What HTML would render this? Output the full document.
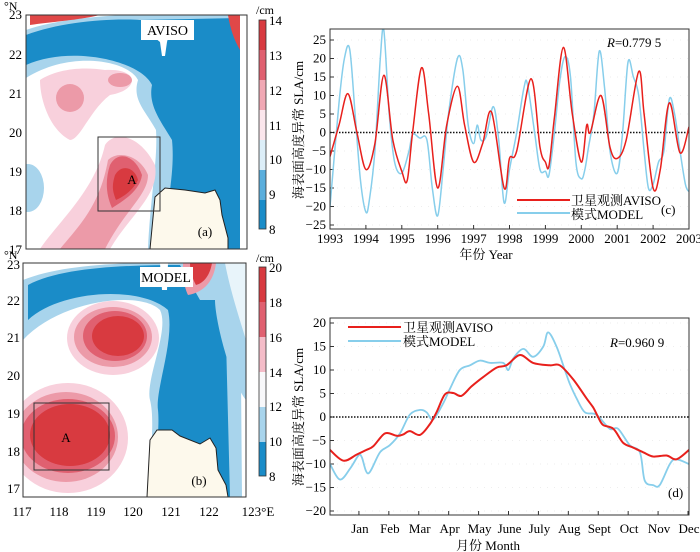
<!DOCTYPE html>
<html><head><meta charset="utf-8"><style>
body{margin:0;background:#fff;}
svg{display:block;font-family:"Liberation Serif","Noto Serif CJK SC",serif;}
</style></head><body>
<svg id="fig" width="700" height="552" viewBox="0 0 700 552" xmlns="http://www.w3.org/2000/svg">
<defs>
<clipPath id="ca"><rect x="26" y="15" width="221" height="234"/></clipPath>
<clipPath id="cb"><rect x="23" y="263" width="223" height="234"/></clipPath>
<clipPath id="cc"><rect x="330" y="29" width="359" height="200"/></clipPath>
<clipPath id="cd"><rect x="330" y="318" width="359" height="197"/></clipPath>
</defs>

<!-- MAP A -->
<g>
<g clip-path="url(#ca)">
<rect x="26" y="15" width="221" height="234" fill="#ffffff"/>
<path d="M26,30 C60,18 120,14 150,15 L240,15 L240,249 L148,249 C150,200 158,160 156,130 C145,110 132,100 138,80 C128,60 70,50 26,78 Z" fill="#a8d4ec"/>
<path d="M26,35 C60,22 110,18 140,20 L240,18 L240,249 L162,249 C168,200 175,170 172,140 C160,120 148,105 152,85 C140,60 70,45 26,65 Z" fill="#1a8cc8"/>
<path d="M228,15 L240,15 L240,50 C234,40 230,28 228,15 Z" fill="#e04848"/>
<rect x="240" y="15" width="7" height="234" fill="#ffffff"/>
<path d="M30,15 L100,15 C80,20 50,22 30,25 Z" fill="#e04848"/>
<ellipse cx="28" cy="188" rx="16" ry="24" fill="#a8d4ec"/>
<path d="M40,80 C55,70 80,66 105,70 C140,68 140,90 110,95 C90,110 80,140 70,140 C50,130 40,100 40,80 Z" fill="#f8d0dc"/>
<ellipse cx="70" cy="98" rx="14" ry="14" fill="#ec9aa8"/>
<ellipse cx="120" cy="80" rx="12" ry="7" fill="#ec9aa8"/>
<path d="M40,249 C60,220 95,190 105,145 C115,130 140,135 155,165 C160,195 130,215 110,249 Z" fill="#f8d0dc"/>
<path d="M60,249 C80,225 100,205 108,160 C118,150 140,155 148,175 C148,195 125,210 105,249 Z" fill="#ec9aa8"/>
<path d="M110,165 C118,150 135,155 142,175 C140,190 125,200 112,208 C106,195 105,180 110,165 Z" fill="#e06070"/>
<path d="M115,175 C122,163 135,168 138,180 C132,192 122,197 116,200 C112,190 112,185 115,175 Z" fill="#d83a40"/>
<path d="M150,249 L155,197 L165,188 L185,190 L205,193 L215,190 L220,200 L222,215 L228,238 L228,249 Z" fill="#fdf9ec" stroke="#222" stroke-width="1"/>
<path d="M145,30 L170,30 L167,42 L165,56 L162,56 L160,42 Z" fill="#fff"/>
</g>
<rect x="26" y="15" width="221" height="234" fill="none" stroke="#333" stroke-width="1"/>
<rect x="141" y="20" width="53" height="20" fill="#fff"/>
<text x="167.5" y="35" font-size="14" text-anchor="middle">AVISO</text>
<rect x="98" y="137" width="62" height="74" fill="none" stroke="#333" stroke-width="1"/>
<text x="132" y="184" font-size="13" text-anchor="middle">A</text>
<text x="205" y="236" font-size="13" text-anchor="middle">(a)</text>
<g font-size="13" text-anchor="end">
<text x="22" y="19">23</text><text x="22" y="59">22</text><text x="22" y="98">21</text><text x="22" y="137">20</text><text x="22" y="176">19</text><text x="22" y="215">18</text><text x="22" y="254">17</text>
</g>
<text x="4" y="10" font-size="12">°N</text>
</g>
<g>
<rect x="259" y="20" width="7" height="30" fill="#d83a40"/><rect x="259" y="50" width="7" height="30" fill="#e06070"/>
<rect x="259" y="80" width="7" height="30" fill="#f0a8b4"/><rect x="259" y="110" width="7" height="30" fill="#fbe6ec"/>
<rect x="259" y="140" width="7" height="30" fill="#dceef8"/><rect x="259" y="170" width="7" height="30" fill="#5aaedc"/>
<rect x="259" y="200" width="7" height="29" fill="#1a8cc8"/>
<rect x="259" y="20" width="7" height="209" fill="none" stroke="#333" stroke-width="0.8"/>
<text x="256" y="14" font-size="12">/cm</text>
<g font-size="13"><text x="269" y="25">14</text><text x="269" y="60">13</text><text x="269" y="95">12</text><text x="269" y="130">11</text><text x="269" y="164">10</text><text x="269" y="199">9</text><text x="269" y="234">8</text></g>
</g>

<!-- MAP B -->
<g>
<g clip-path="url(#cb)">
<rect x="23" y="263" width="223" height="234" fill="#ffffff"/>
<path d="M23,280 C60,265 120,262 180,263 L240,263 L242,497 L150,497 C150,450 155,420 150,400 C145,380 170,330 160,310 C140,290 60,300 23,340 Z" fill="#a8d4ec"/>
<path d="M28,285 C60,268 120,265 180,265 L200,300 L225,300 L230,497 L152,497 C155,460 160,430 158,410 C155,390 175,340 168,310 C140,285 60,290 28,320 Z" fill="#1a8cc8"/>
<path d="M200,263 L246,263 L246,400 C230,380 215,320 215,300 C210,285 205,270 200,263 Z" fill="#a8d4ec"/>
<path d="M225,263 L246,263 L246,340 C240,320 230,290 225,263 Z" fill="#e8f4fa"/>
<path d="M183,263 L216,263 C214,280 205,292 188,295 C183,285 183,272 183,263 Z" fill="#ec9aa8"/>
<path d="M190,263 L212,263 C210,275 204,283 196,285 C192,278 190,270 190,263 Z" fill="#d83a40"/>
<ellipse cx="113" cy="338" rx="46" ry="37" fill="#f8d0dc"/>
<ellipse cx="113" cy="337" rx="39" ry="30" fill="#ec9aa8"/>
<ellipse cx="115" cy="336" rx="32" ry="25" fill="#e06070"/>
<ellipse cx="118" cy="336" rx="26" ry="20" fill="#d83a40"/>
<ellipse cx="68" cy="438" rx="60" ry="55" fill="#f8d0dc"/>
<ellipse cx="66" cy="437" rx="52" ry="45" fill="#ec9aa8"/>
<ellipse cx="68" cy="436" rx="47" ry="37" fill="#e06070"/>
<ellipse cx="70" cy="435" rx="40" ry="31" fill="#d83a40"/>
<path d="M147,497 L150,440 L157,430 L172,430 L180,436 L200,444 L210,438 L216,448 L218,470 L226,485 L228,497 Z" fill="#fdf9ec" stroke="#222" stroke-width="1"/>
<path d="M160,263 L168,263 L167,290 L162,290 Z" fill="#fff"/>
</g>
<rect x="23" y="263" width="223" height="234" fill="none" stroke="#333" stroke-width="1"/>
<rect x="140" y="267" width="53" height="20" fill="#fff"/>
<text x="166" y="282" font-size="14" text-anchor="middle">MODEL</text>
<rect x="34" y="403" width="75" height="67" fill="none" stroke="#333" stroke-width="1"/>
<text x="66" y="442" font-size="13" text-anchor="middle">A</text>
<text x="199" y="485" font-size="13" text-anchor="middle">(b)</text>
<g font-size="13" text-anchor="end">
<text x="20" y="269">23</text><text x="20" y="305">22</text><text x="20" y="342">21</text><text x="20" y="380">20</text><text x="20" y="418">19</text><text x="20" y="456">18</text><text x="20" y="493">17</text>
</g>
<text x="4" y="259" font-size="12">°N</text>
<g font-size="13" text-anchor="middle">
<text x="22" y="516">117</text><text x="59" y="516">118</text><text x="96" y="516">119</text><text x="133" y="516">120</text><text x="171" y="516">121</text><text x="209" y="516">122</text><text x="258" y="516">123°E</text>
</g>
</g>
<g>
<rect x="259" y="267" width="7" height="35" fill="#d83a40"/><rect x="259" y="302" width="7" height="35" fill="#e06070"/>
<rect x="259" y="337" width="7" height="35" fill="#f4bcc8"/><rect x="259" y="372" width="7" height="35" fill="#f8f8fa"/>
<rect x="259" y="407" width="7" height="35" fill="#a8d4ec"/><rect x="259" y="442" width="7" height="34" fill="#1a8cc8"/>
<rect x="259" y="267" width="7" height="209" fill="none" stroke="#333" stroke-width="0.8"/>
<text x="256" y="262" font-size="12">/cm</text>
<g font-size="13"><text x="269" y="272">20</text><text x="269" y="307">18</text><text x="269" y="342">16</text><text x="269" y="377">14</text><text x="269" y="411">12</text><text x="269" y="446">10</text><text x="269" y="481">8</text></g>
</g>

<g id="chartc"></g>
<g id="chartd"></g>
</svg>
<script>
const cYears = ["1993","1994","1995","1996","1997","1998","1999","2000","2001","2002","2003"];
const cYTicks = [25,20,15,10,5,0,-5,-10,-15,-20,-25];
const cAvisoT = [1993.0,1993.25,1993.5,1993.75,1994.0,1994.25,1994.5,1994.75,1995.0,1995.15,1995.3,1995.55,1995.75,1996.0,1996.25,1996.55,1996.75,1997.0,1997.25,1997.5,1997.85,1998.0,1998.2,1998.6,1998.85,1999.0,1999.1,1999.25,1999.5,1999.75,2000.0,2000.15,2000.25,2000.55,2000.8,2001.0,2001.25,2001.6,2001.75,2002.0,2002.2,2002.45,2002.75,2003.0];
const cAvisoV = [-6.5,2,10.5,0,-10,-3,15.5,-2,-10.5,-13,0,17.5,5,-15,2,12.5,2,-8,-3,5.5,-15,-7,-5,14.5,-4,-8,-9,4,23,5,-8,2,0,10,-4,-7,-2,16.5,5,-15,-10,8,-5.5,1.5];
const cModelT = [1993.0,1993.25,1993.4,1993.55,1993.7,1993.85,1994.0,1994.1,1994.25,1994.4,1994.5,1994.65,1994.8,1995.0,1995.2,1995.3,1995.5,1995.7,1995.85,1996.0,1996.15,1996.3,1996.55,1996.7,1996.85,1997.0,1997.1,1997.2,1997.35,1997.55,1997.7,1997.85,1998.0,1998.2,1998.4,1998.5,1998.7,1998.85,1999.0,1999.1,1999.25,1999.4,1999.55,1999.7,1999.85,2000.0,2000.1,2000.2,2000.35,2000.5,2000.65,2000.8,2001.0,2001.15,2001.3,2001.45,2001.6,2001.75,2001.87,2002.0,2002.15,2002.3,2002.45,2002.6,2002.75,2002.9,2003.0];
const cModelV = [-20,8,20,22.5,5,-13,-21.5,-18,-5,20,27.5,5,-8,-11,-5,-0.5,-1.5,-2,-15,-22.5,-10,5,20,17,2,-3,2,-2,-1,7,-2,-19,-10,0,12,13,0,-10,-10.5,-11.5,0,14,20.5,15,-8,-12.5,-10,-4,5,22,12,-5,-11,0,19,15,10,-5,-15,-14,-8,-5,9,5,-5,-14,-16];

const dMonths = ["Jan","Feb","Mar","Apr","May","June","July","Aug","Sept","Oct","Nov","Dec"];
const dYTicks = [20,15,10,5,0,-5,-10,-15,-20];
const dAvisoT = [0,0.45,0.89,1.22,1.45,1.84,2.23,2.45,2.67,3.01,3.34,3.56,3.84,4.12,4.39,4.73,5.12,5.57,5.9,6.35,6.79,7.35,7.68,8.13,8.57,8.8,8.96,9.13,9.47,9.8,10.13,10.47,10.8,11.25,11.58,12];
const dAvisoV = [-7,-9.3,-8,-7,-6.2,-3.5,-4,-3.7,-3,-3.8,-1.5,1,4.8,5.1,4.5,6.5,8.5,10.5,11,13.2,11.5,11,11,8,4,2,0,-1.7,-2.5,-5.5,-6.5,-7.5,-8.4,-8.2,-9,-7];
const dModelT = [0,0.33,0.67,0.95,1.06,1.28,1.67,2.0,2.34,2.67,3.01,3.23,3.45,3.79,4.01,4.34,4.68,5.01,5.35,5.79,5.96,6.13,6.46,6.79,7.13,7.29,7.57,7.85,8.02,8.24,8.52,8.9,9.35,9.63,10.02,10.36,10.52,10.8,11.02,11.36,11.58,12];
const dModelV = [-10,-13.3,-11,-8.2,-8.5,-12,-7.5,-6,-3.5,0.5,1.5,1,-0.5,3,6,10,11,12,11.5,11.5,10,12.5,14.5,12.8,15,18,15,10,7,4,1,0.5,-2.5,-2.5,-6,-7.5,-13.5,-14.5,-14.5,-10,-9,-10];

const NS="http://www.w3.org/2000/svg";
function mk(parent,tag,attrs,txt){const e=document.createElementNS(NS,tag);for(const k in attrs)e.setAttribute(k,attrs[k]);if(txt!==undefined)e.textContent=txt;parent.appendChild(e);return e;}
function smooth(xs,ys,sx,sy){let pts=xs.map((x,i)=>[sx(x),sy(ys[i])]);let d="M"+pts[0][0].toFixed(1)+","+pts[0][1].toFixed(1);
for(let i=0;i<pts.length-1;i++){const p0=pts[Math.max(0,i-1)],p1=pts[i],p2=pts[i+1],p3=pts[Math.min(pts.length-1,i+2)];
const c1=[p1[0]+(p2[0]-p0[0])/6,p1[1]+(p2[1]-p0[1])/6],c2=[p2[0]-(p3[0]-p1[0])/6,p2[1]-(p3[1]-p1[1])/6];
d+=" C"+c1[0].toFixed(1)+","+c1[1].toFixed(1)+" "+c2[0].toFixed(1)+","+c2[1].toFixed(1)+" "+p2[0].toFixed(1)+","+p2[1].toFixed(1);}return d;}

(function(){
const g=document.getElementById('chartc');
const L=330,R=689,T=29,B=229;
const sx=t=>L+(t-1993)/10*(R-L);
const sy=v=>40+(25-v)/50*185;
for(const v of cYTicks){const y=sy(v);
mk(g,'line',{x1:L,x2:R,y1:y,y2:y,stroke:'#ddd','stroke-width':0.6,'stroke-dasharray':'1,6'});
mk(g,'line',{x1:L,x2:L+4,y1:y,y2:y,stroke:'#333'});
const t=mk(g,'text',{x:L-4,y:y+4,'font-size':13,'text-anchor':'end'},v<0?'\u2212'+(-v):String(v));

}
cYears.forEach((s,i)=>{const x=sx(1993+i);
mk(g,'line',{x1:x,x2:x,y1:B,y2:B-4,stroke:'#333'});
const t=mk(g,'text',{x:x,y:B+14,'font-size':13,'text-anchor':'middle'},s);

});
mk(g,'line',{x1:L,x2:R,y1:sy(0),y2:sy(0),stroke:'#111','stroke-width':1.5,'stroke-dasharray':'1.5,1.5'});
const cl=mk(g,'g',{'clip-path':'url(#cc)'});
const pm=mk(cl,'path',{d:smooth(cModelT,cModelV,sx,sy),fill:'none',stroke:'#87ceeb','stroke-width':1.5});


const pa=mk(cl,'path',{d:smooth(cAvisoT,cAvisoV,sx,sy),fill:'none',stroke:'#e8201c','stroke-width':1.5});


mk(g,'rect',{x:L,y:T,width:R-L,height:B-T,fill:'none',stroke:'#333'});
mk(g,'line',{x1:517,x2:570,y1:200,y2:200,stroke:'#e8201c','stroke-width':2});
mk(g,'line',{x1:517,x2:570,y1:213,y2:213,stroke:'#87ceeb','stroke-width':2});
const l1=mk(g,'text',{x:571,y:205,'font-size':13},'卫星观测AVISO');


const l2=mk(g,'text',{x:571,y:219,'font-size':13},'模式MODEL');


mk(g,'text',{x:661,y:214,'font-size':13},'(c)');
const r=mk(g,'text',{x:607,y:47,'font-size':13});r.innerHTML='<tspan font-style="italic">R</tspan>=0.779 5';


const xl=mk(g,'text',{x:486,y:259,'font-size':13,'text-anchor':'middle'},'年份 Year');


const yl=mk(g,'text',{x:0,y:0,'font-size':13,'text-anchor':'middle',transform:'translate(303,130) rotate(-90)'},'海表面高度异常 SLA/cm');


})();

(function(){
const g=document.getElementById('chartd');
const L=330,R=689,T=318,B=515;
const sx=m=>L+m/12*(R-L);
const sy=v=>323+(20-v)/40*188;
for(const v of dYTicks){const y=sy(v);
mk(g,'line',{x1:L,x2:R,y1:y,y2:y,stroke:'#ddd','stroke-width':0.6,'stroke-dasharray':'1,6'});
mk(g,'line',{x1:L,x2:L+4,y1:y,y2:y,stroke:'#333'});
const t=mk(g,'text',{x:L-4,y:y+4,'font-size':13,'text-anchor':'end'},v<0?'\u2212'+(-v):String(v));

}
dMonths.forEach((s,i)=>{const x=sx(i+1);
mk(g,'line',{x1:x-1,x2:x-1,y1:B,y2:B-4,stroke:'#333'});
const t=mk(g,'text',{x:x,y:533,'font-size':13,'text-anchor':'middle'},s);

});
mk(g,'line',{x1:L,x2:R,y1:sy(0),y2:sy(0),stroke:'#111','stroke-width':1.5,'stroke-dasharray':'1.5,1.5'});
const cl=mk(g,'g',{'clip-path':'url(#cd)'});
const pm=mk(cl,'path',{d:smooth(dModelT,dModelV,sx,sy),fill:'none',stroke:'#87ceeb','stroke-width':1.8});


const pa=mk(cl,'path',{d:smooth(dAvisoT,dAvisoV,sx,sy),fill:'none',stroke:'#e8201c','stroke-width':2});


mk(g,'rect',{x:L,y:T,width:R-L,height:B-T,fill:'none',stroke:'#333'});
mk(g,'line',{x1:348,x2:401,y1:327,y2:327,stroke:'#e8201c','stroke-width':2});
mk(g,'line',{x1:348,x2:401,y1:341,y2:341,stroke:'#87ceeb','stroke-width':2});
const l1=mk(g,'text',{x:403,y:332,'font-size':13},'卫星观测AVISO');


const l2=mk(g,'text',{x:403,y:346,'font-size':13},'模式MODEL');


mk(g,'text',{x:668,y:497,'font-size':13},'(d)');
const r=mk(g,'text',{x:610,y:347,'font-size':13});r.innerHTML='<tspan font-style="italic">R</tspan>=0.960 9';


const xl=mk(g,'text',{x:488,y:550,'font-size':13,'text-anchor':'middle'},'月份 Month');


const yl=mk(g,'text',{x:0,y:0,'font-size':13,'text-anchor':'middle',transform:'translate(303,417) rotate(-90)'},'海表面高度异常 SLA/cm');


})();
</script>
</body></html>
